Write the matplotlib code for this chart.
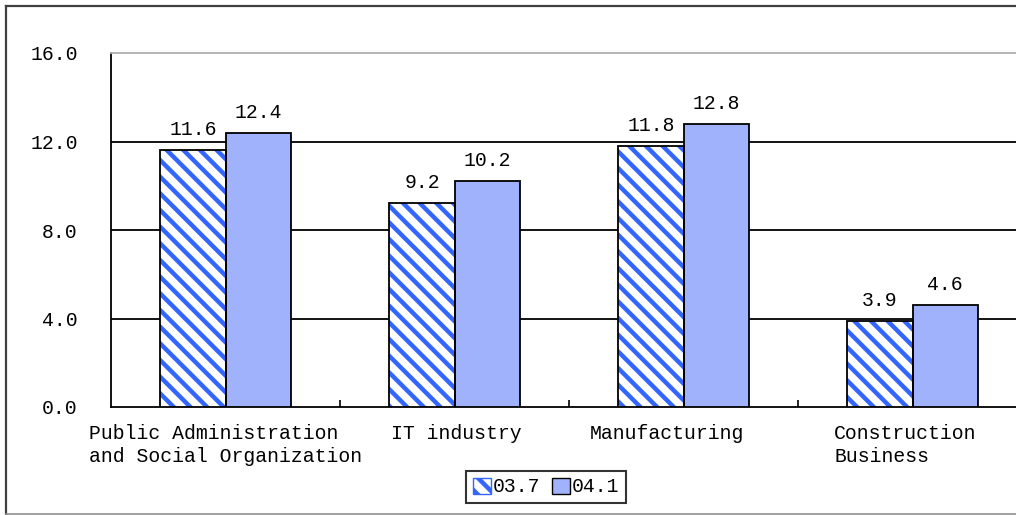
import matplotlib
matplotlib.use("Agg")
import matplotlib.pyplot as plt
import matplotlib.patches as patches
import matplotlib.transforms as mtransforms
import numpy as np

categories = ["Public Administration\nand Social Organization", "IT industry",
              "Manufacturing", "Construction\nBusiness"]
series_names = ["03.7", "04.1"]
values_037 = [11.6, 9.2, 11.8, 3.9]
values_041 = [12.4, 10.2, 12.8, 4.6]
yticks = [0, 4, 8, 12, 16]

plt.rcParams['font.family'] = ['Liberation Mono', 'DejaVu Sans Mono']
plt.rcParams['hatch.linewidth'] = 3.2
FS = 14.2

fig = plt.figure(figsize=(10.16, 5.15), dpi=100)
W, H = 1016, 515
ax = fig.add_axes([111 / W, (H - 407) / H, (1027 - 111) / W, 354 / H])

x = np.arange(len(categories))
bw = 0.284
blue = '#3366ff'

# first series: white with blue diagonal stripes
ax.bar(x - bw / 2, values_037, bw, facecolor='white', edgecolor=blue,
       hatch='\\\\', linewidth=0, zorder=3)
ax.bar(x - bw / 2, values_037, bw, facecolor='none', edgecolor='black',
       linewidth=1.3, zorder=4)
# second series: fine blue dot texture
ax.bar(x + bw / 2, values_041, bw, facecolor='#9fb2fb', edgecolor='black',
       linewidth=1.3, zorder=3)

for xi, v in zip(x - bw / 2, values_037):
    ax.annotate(f"{v:.1f}", (xi, v), xytext=(0, 8), textcoords='offset points',
                ha='center', va='bottom', fontsize=FS)
for xi, v in zip(x + bw / 2, values_041):
    ax.annotate(f"{v:.1f}", (xi, v), xytext=(0, 8), textcoords='offset points',
                ha='center', va='bottom', fontsize=FS)

for y in yticks[1:-1]:
    ax.axhline(y, color='black', linewidth=1.3, zorder=1)

ax.set_xlim(-0.5, len(categories) - 0.5)
ax.set_ylim(0, 16)
ax.set_yticks(yticks)
ax.set_yticklabels([f"{t:.1f}" for t in yticks], fontsize=FS)
ax.tick_params(axis='y', length=0, pad=24)

ax.set_xticks(x[:-1] + 0.5)
ax.set_xticklabels([])
ax.tick_params(axis='x', which='major', direction='in', length=5, width=1.2)
ax.set_xticks(x, minor=True)
ax.set_xticklabels(categories, minor=True, fontsize=FS, ha='center',
                   multialignment='left', linespacing=1.3)
ax.tick_params(axis='x', which='minor', length=0, pad=12)

# small horizontal nudges of the category labels, as in the original layout
nudges = [0, 2, -17, -7]
for lbl, dx in zip(ax.get_xticklabels(minor=True), nudges):
    lbl.set_transform(lbl.get_transform() +
                      mtransforms.ScaledTranslation(dx / 100, 0, fig.dpi_scale_trans))

for s in ['left', 'bottom']:
    ax.spines[s].set_linewidth(1.3)
    ax.spines[s].set_color('black')
ax.spines['top'].set_color('#b0b0b0')
ax.spines['top'].set_linewidth(1.3)
ax.spines['right'].set_visible(False)

# legend
h1 = patches.Patch(facecolor='white', edgecolor=blue, hatch='\\\\')
h2 = patches.Patch(facecolor='#9fb2fb', edgecolor='black')
leg = fig.legend([h1, h2], series_names, loc='center', ncol=2,
                 bbox_to_anchor=(546 / W, 1 - 487 / H), fontsize=FS,
                 frameon=True, fancybox=False, handlelength=0.9,
                 handleheight=0.9, handletextpad=0.1, columnspacing=0.6,
                 borderpad=0.35, borderaxespad=0)
leg.get_frame().set_edgecolor('black')
leg.get_frame().set_linewidth(1.5)

# outer chart frame (cut off on the right)
fig.add_artist(plt.Line2D([6 / W, 6 / W], [1 - 6 / H, 1 - 514 / H],
                          transform=fig.transFigure, color='#404040', linewidth=1.6))
fig.add_artist(plt.Line2D([6 / W, 1], [1 - 6 / H, 1 - 6 / H],
                          transform=fig.transFigure, color='#404040', linewidth=1.6))
fig.add_artist(plt.Line2D([6 / W, 1], [1 - 514 / H, 1 - 514 / H],
                          transform=fig.transFigure, color='#909090', linewidth=1.2))

fig.savefig("out.png", dpi=100)
